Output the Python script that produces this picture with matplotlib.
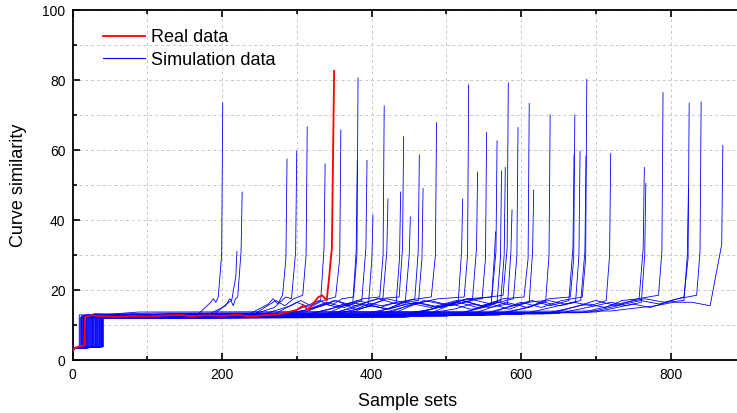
import numpy as np
import matplotlib
matplotlib.use("Agg")
import matplotlib.pyplot as plt
from matplotlib.ticker import MultipleLocator
from matplotlib.lines import Line2D

plt.rcParams['font.family'] = ['Liberation Sans', 'DejaVu Sans']

# ---------------- data ----------------
# Real data curve key points
red_x = [0, 3, 8, 16, 17, 25, 40, 60, 80, 100, 120, 144, 160, 180, 200, 220, 240,
         251, 265, 277, 290, 300, 309, 315, 322, 329, 334, 340, 343, 347, 350]
red_y = [2.5, 3.5, 3.8, 4.2, 12.3, 12.8, 12.5, 12.3, 12.6, 12.4, 12.7, 12.9, 12.5,
         12.8, 12.6, 12.9, 12.4, 12.7, 12.9, 13.1, 13.8, 14.3, 15.6, 14.3, 16.2,
         18.0, 18.5, 17.0, 22.9, 32.0, 82.6]

# Simulation curves: one entry per curve
sim_jump_x = [22, 9, 31, 15, 38, 26, 12, 35, 19, 41, 28, 13, 33, 17, 24, 39, 10, 30,
              21, 36, 14, 27, 40, 18, 32, 11, 25, 37, 16, 29, 34, 20, 41, 23, 39, 12,
              31, 27, 36, 15, 22, 38, 19, 33, 26, 40, 14]
sim_base_y = [12.4, 12.9, 12.2, 12.7, 13.1, 12.3, 12.6, 12.0, 12.8, 12.5, 13.2, 12.1,
              12.6, 12.9, 12.3, 12.7, 12.0, 12.5, 13.0, 12.2, 12.8, 12.4, 12.6, 12.1,
              12.9, 12.3, 12.7, 12.0, 12.5, 13.1, 12.2, 12.6, 12.4, 12.8, 12.1, 12.5,
              12.9, 12.3, 12.7, 12.0, 12.6, 12.2, 12.8, 12.4, 13.0, 12.3, 12.5]
sim_rise_x = [165, 180, 185, 232, 240, 238, 250, 262, 270, 280, 288, 300, 292, 310,
              320, 300, 330, 340, 350, 330, 380, 360, 400, 390, 430, 410, 440, 445,
              420, 460, 450, 470, 500, 510, 540, 530, 560, 570, 550, 600, 630, 650,
              640, 680, 700, 690, 720]
sim_rise_y = [12.5, 12.8, 12.3, 12.6, 12.9, 12.4, 12.7, 12.2, 12.8, 12.5, 13.0, 12.3,
              12.6, 12.9, 12.4, 12.7, 12.2, 12.5, 12.9, 12.3, 12.7, 12.4, 12.6, 12.2,
              12.8, 12.4, 12.6, 12.2, 12.5, 12.9, 12.3, 12.6, 12.5, 12.7, 12.7, 12.8,
              12.9, 12.8, 12.7, 13.0, 13.2, 13.3, 13.2, 13.5, 13.7, 13.6, 14.0]
sim_rise2_x = [185, 205, 212, 262, 270, 272, 292, 300, 318, 330, 335, 345, 340, 352,
               370, 350, 380, 385, 400, 380, 430, 420, 450, 445, 480, 460, 490, 495,
               470, 510, 500, 520, 550, 560, 590, 580, 610, 615, 600, 650, 690, 700,
               700, 740, 750, 760, 780]
sim_level = [16.5, 15.5, 17.0, 16.0, 15.0, 17.0, 15.5, 16.5, 14.5, 17.0, 15.5, 14.5,
             16.5, 15.0, 14.5, 17.0, 14.5, 16.0, 15.5, 17.0, 15.0, 17.5, 15.5, 16.5,
             14.5, 16.5, 15.0, 15.5, 17.0, 14.5, 16.0, 17.0, 15.0, 16.0, 15.5, 16.5,
             15.0, 15.5, 16.5, 15.5, 16.0, 15.5, 17.0, 16.5, 16.0, 17.0, 15.5]
sim_mid1 = [17.5, 16.5, 15.5, 17.5, 16.5, 15.5, 17.0, 15.0, 16.0, 15.5, 17.0, 16.0,
            15.0, 16.5, 16.0, 15.5, 15.5, 17.5, 14.5, 15.5, 16.5, 16.0, 17.0, 15.0,
            16.0, 15.0, 16.5, 17.0, 15.5, 16.0, 17.5, 15.5, 16.5, 14.5, 17.0, 15.0,
            16.5, 17.0, 15.0, 16.5, 15.0, 16.5, 15.5, 17.5, 15.0, 16.0, 16.5]
sim_mid2 = [16.5, 17.5, 17.5, 16.0, 18.0, 17.5, 15.5, 17.0, 15.0, 17.5, 15.5, 14.5,
            17.5, 15.5, 15.0, 17.5, 14.5, 16.0, 16.5, 17.0, 15.0, 17.5, 15.5, 17.0,
            14.5, 17.5, 15.0, 15.5, 17.5, 15.0, 16.0, 17.5, 15.5, 16.5, 15.5, 17.5,
            15.5, 16.0, 17.0, 15.5, 17.0, 15.5, 17.5, 16.5, 16.5, 17.5, 16.5]
sim_level2 = [18.0, 17.0, 18.0, 18.5, 17.5, 18.5, 17.0, 18.0, 16.5, 18.0, 17.0, 16.0,
              18.0, 17.0, 16.5, 18.0, 16.0, 17.5, 17.0, 18.0, 16.5, 18.0, 17.0, 17.5,
              15.5, 18.0, 16.5, 17.0, 18.5, 16.0, 17.5, 18.0, 16.5, 17.0, 17.0, 18.0,
              16.5, 17.0, 18.0, 17.0, 17.5, 16.5, 18.5, 18.0, 17.0, 18.5, 15.5]
sim_end_x = [201, 220, 227, 287, 300, 314, 338, 359, 381, 382, 394, 402, 417, 422,
             439, 443, 452, 464, 469, 487, 522, 530, 542, 554, 566, 568, 574, 579,
             583, 588, 596, 611, 617, 639, 671, 672, 679, 687, 688, 720, 765, 767,
             790, 825, 824, 841, 870]
sim_ramp = [6, 7, 6, 6, 7, 6, 6, 7, 6, 6, 7, 6, 6, 7, 6, 6, 7, 6, 6, 7, 6, 6, 7, 6,
            6, 7, 6, 6, 7, 6, 6, 7, 6, 6, 7, 6, 6, 7, 6, 6, 7, 6, 6, 7, 6, 6, 17]
sim_knee = [30, 24, 31, 29, 31, 30, 32, 29, 31, 30, 32, 29, 30, 31, 29, 32, 30, 31,
            29, 30, 31, 30, 32, 29, 30, 31, 29, 30, 32, 31, 30, 29, 31, 30, 32, 29,
            30, 31, 29, 30, 32, 30, 31, 29, 30, 31, 33]
sim_peak = [73.4, 31, 48, 57.4, 59.7, 66.6, 56, 65.7, 57, 80.6, 57, 41.4, 72.6, 46,
            48, 63.8, 40.9, 58.6, 49, 67.8, 46, 78.6, 53.7, 65, 36.6, 62.6, 54, 55,
            79.2, 42.9, 66.4, 73.3, 48.6, 70, 58.6, 70, 59.7, 58.3, 80.2, 59, 55,
            50.5, 76.4, 73.4, 49, 73.7, 61.3]

x_ticks = [0, 200, 400, 600, 800]
y_ticks = [0, 20, 40, 60, 80, 100]
legend_labels = ["Real data", "Simulation data"]
x_label = "Sample sets"
y_label = "Curve similarity"

# ---------------- figure ----------------
fig = plt.figure(figsize=(7.37, 4.13), dpi=100)
ax = fig.add_axes([72.5 / 737, 53 / 413, (742 - 72.5) / 737, 350 / 413])

BLUE = "#0000ff"
RED = "#ff0000"

for i in range(len(sim_end_x)):
    e = sim_end_x[i]
    a = sim_rise2_x[i]
    b = e - sim_ramp[i]
    xs = [0, sim_jump_x[i], sim_jump_x[i], 60 + sim_jump_x[i] * 2, sim_rise_x[i],
          a, a + (b - a) / 3, a + 2 * (b - a) / 3, b, e - 1.5, e]
    ys = [3.2, 3.8, sim_base_y[i], sim_rise_y[i] - 0.3, sim_rise_y[i],
          sim_level[i], sim_mid1[i], sim_mid2[i], sim_level2[i],
          sim_knee[i], sim_peak[i]]
    ax.plot(xs, ys, color=BLUE, lw=0.6, solid_joinstyle="miter", zorder=2)

ax.plot(red_x, red_y, color=RED, lw=1.3, zorder=3)

ax.set_xlim(0, (742 - 72.5) / 0.7475)
ax.set_ylim(0, 100)
ax.set_xticks(x_ticks)
ax.set_yticks(y_ticks)
ax.xaxis.set_minor_locator(MultipleLocator(100))
ax.yaxis.set_minor_locator(MultipleLocator(10))
ax.grid(which="both", color="#c8c8c8", linestyle=(0, (3, 3)), linewidth=0.7)
ax.set_axisbelow(True)

ax.tick_params(which="both", direction="in", top=True, right=False, width=1.2,
               labelsize=10, colors="black")
ax.tick_params(which="major", length=5)
ax.tick_params(which="minor", length=3)
ax.tick_params(axis="y", pad=5)
ax.tick_params(axis="x", pad=6)
for s in ["left", "bottom", "top"]:
    ax.spines[s].set_linewidth(1.3)
ax.spines["right"].set_visible(False)

ax.set_xlabel(x_label, fontsize=13, labelpad=8)
ax.set_ylabel(y_label, fontsize=13, labelpad=11)

handles = [Line2D([], [], color=RED, lw=1.3), Line2D([], [], color=BLUE, lw=0.8)]
ax.legend(handles, legend_labels, loc="upper left", bbox_to_anchor=(0.0456, 0.945),
          frameon=False, fontsize=13, handlelength=2.33, handletextpad=0.3,
          labelspacing=0.3, borderpad=0, borderaxespad=0)

fig.savefig("out.png", dpi=100)
